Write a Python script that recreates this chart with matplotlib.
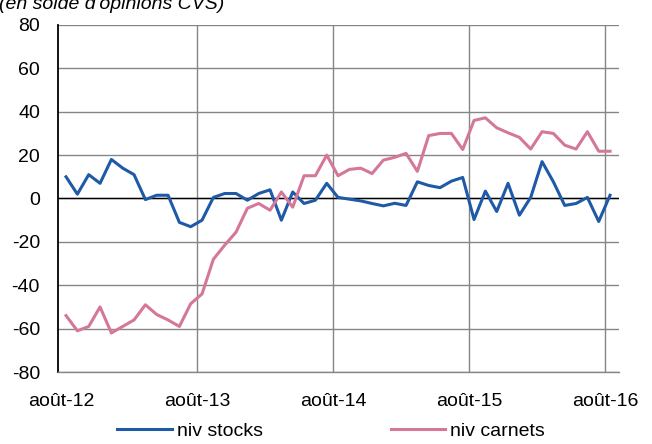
import matplotlib
matplotlib.use("Agg")
import matplotlib.pyplot as plt
import numpy as np

plt.rcParams['font.family'] = ['Liberation Sans', 'DejaVu Sans']
plt.rcParams['axes.unicode_minus'] = False

tick_labels = ["août-12", "août-13", "août-14", "août-15", "août-16"]
niv_stocks = [10, 2, 11, 7, 18, 14, 11, -0.5, 1.5, 1.5, -11, -13, -10, 0.5, 2.3, 2.3,
              -0.8, 2.3, 4, -10, 3, -2.3, -0.8, 7, 0.5, -0.3, -1.1, -2.3, -3.4, -2.2,
              -3.2, 7.7, 6, 5, 8, 9.7, -9.7, 3.4, -6, 7, -7.7, 0.5, 17, 7.7, -3.2,
              -2.3, 0.5, -10.6, 1.5]
niv_carnets = [-54, -61, -59, -50, -62, -59, -56, -49, -53.5, -56, -59, -48.5, -44,
               -28, -21.5, -15.5, -4.5, -2.3, -5.4, 3, -4, 10.5, 10.5, 20, 10.5,
               13.4, 14, 11.5, 17.7, 19, 20.8, 12.5, 29, 30, 30, 22.6, 36, 37.2, 32.6,
               30.3, 28.2, 22.8, 30.8, 30, 24.6, 22.8, 30.8, 21.8, 21.8]

months = np.arange(len(niv_stocks)) + 0.45
tick_pos = np.arange(0, 49, 12)

fig = plt.figure(figsize=(6.52, 4.44), dpi=100)
ax = fig.add_axes([58/652, 1 - 372/444, (619-58)/652, (372-25)/444])

grid_c = '#868686'
ax.plot(months, niv_stocks, color='#1F5AA6', lw=2.2, label='niv stocks', solid_joinstyle='round')
ax.plot(months, niv_carnets, color='#D5779B', lw=2.2, label='niv carnets', solid_joinstyle='round')
ax.axhline(0, color='black', lw=1.0, zorder=1.5)

ax.set_xlim(-0.26, 49.24)
ax.set_ylim(-80, 80)
ax.set_yticks(np.arange(-80, 81, 20))
ax.set_xticks(tick_pos)
ax.set_xticklabels(tick_labels)
ax.grid(True, color=grid_c, lw=1.0)
ax.set_axisbelow(True)
ax.get_xgridlines()[0].set_visible(False)

for s in ['top', 'right']:
    ax.spines[s].set_visible(False)
ax.spines['bottom'].set_color(grid_c)
ax.spines['bottom'].set_linewidth(1.0)
ax.spines['left'].set_color('black')
ax.spines['left'].set_linewidth(1.3)
ax.tick_params(axis='both', length=0, labelsize=14)
ax.tick_params(axis='y', pad=13)
ax.tick_params(axis='x', pad=15)

fig.text(-0.002, 1 - 9/444, "(en solde d'opinions CVS)", fontsize=14, style='italic',
         ha='left', va='baseline')

leg = fig.legend(loc='center', bbox_to_anchor=(0.508, 1 - 431/444), ncol=2, frameon=False,
                 fontsize=14, handlelength=2.8, handletextpad=0.25, columnspacing=6.6)

fig.savefig('out.png', dpi=100)
